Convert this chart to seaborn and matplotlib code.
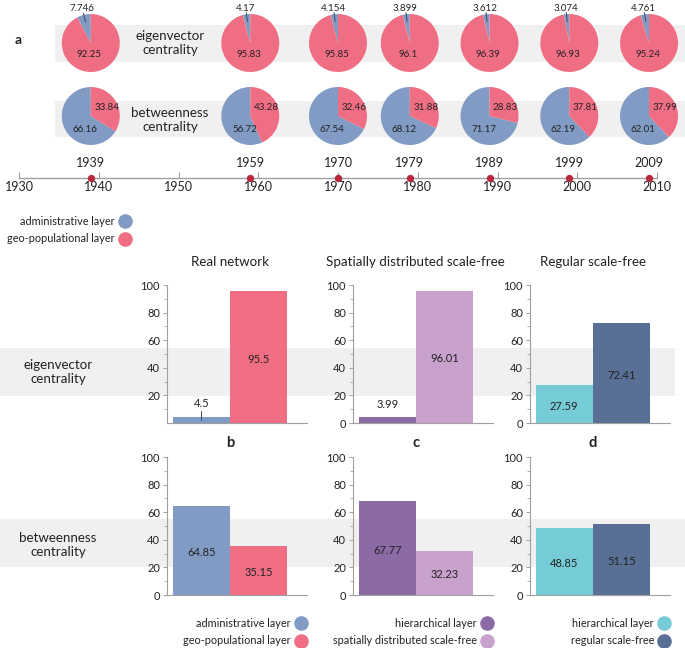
import numpy as np
import matplotlib
matplotlib.use("Agg")
import matplotlib.pyplot as plt
import matplotlib.transforms as mtransforms
from matplotlib.patches import Rectangle
from matplotlib.lines import Line2D
import seaborn as sns

# panel a: share of each layer per census year (pies)
years = [1939, 1959, 1970, 1979, 1989, 1999, 2009]
eig_admin = [7.746, 4.17, 4.154, 3.899, 3.612, 3.074, 4.761]
eig_geo = [92.25, 95.83, 95.85, 96.1, 96.39, 96.93, 95.24]
btw_admin = [66.16, 56.72, 67.54, 68.12, 71.17, 62.19, 62.01]
btw_geo = [33.84, 43.28, 32.46, 31.88, 28.83, 37.81, 37.99]
axis_years = [1930, 1940, 1950, 1960, 1970, 1980, 1990, 2000, 2010]

# panels b-d: bars
panel_titles = ["Real network", "Spatially distributed scale-free", "Regular scale-free"]
panel_letters = ["b", "c", "d"]
b_labels = ["administrative layer", "geo-populational layer"]
c_labels = ["hierarchical layer", "spatially distributed scale-free"]
d_labels = ["hierarchical layer", "regular scale-free"]
eig_b = [4.5, 95.5]
eig_c = [3.99, 96.01]
eig_d = [27.59, 72.41]
btw_b = [64.85, 35.15]
btw_c = [67.77, 32.23]
btw_d = [48.85, 51.15]

# colours
BLUE = "#819bc4"
PINK = "#f06e84"
PURPLE = "#8b6aa5"
LILAC = "#c8a1cc"
CYAN = "#76ccd6"
NAVY = "#5a6f96"
RED = "#b8283c"
BAND = "#f0f0f0"
GREY = "#a0a0a0"
TXT = "#222222"

sns.set_theme(style="white")
plt.rcParams["font.family"] = ["Lato", "DejaVu Sans"]
plt.rcParams["text.color"] = TXT

W, H = 685, 648
fig = plt.figure(figsize=(W / 100, H / 100), dpi=100)


def box(x0, y0, x1, y1):
    # pixel box, origin top-left -> figure rect
    return [x0 / W, 1 - y1 / H, (x1 - x0) / W, (y1 - y0) / H]


def fpos(x, y):
    return (x / W, 1 - y / H)


# background: grey bands and row labels
bg = fig.add_axes([0, 0, 1, 1], zorder=0)
bg.set_xlim(0, W)
bg.set_ylim(H, 0)
bg.axis("off")
for x0, x1, y0, y1 in [(55, 685, 25, 62), (55, 685, 101, 137),
                       (0, 675, 348, 396), (0, 685, 519, 567)]:
    bg.add_patch(Rectangle((x0, y0), x1 - x0, y1 - y0, color=BAND, lw=0))

bg.text(18, 40, "a", fontsize=10, fontweight="bold", ha="center", va="center")
row_kw = dict(fontsize=9.6, ha="center", va="center", linespacing=1.15)
bg.text(170, 43, "eigenvector\ncentrality", **row_kw)
bg.text(170, 120, "betweenness\ncentrality", **row_kw)
bg.text(58, 372, "eigenvector\ncentrality", **row_kw)
bg.text(58, 545, "betweenness\ncentrality", **row_kw)

# ---------------- panel a ----------------
s = 638 / 80  # px per year
ax_a = fig.add_axes(box(0, 0, 685, 178), zorder=1)
ax_a.set_facecolor("none")
R = 29 / s
y_eig = (178 - 43) / s
y_btw = (178 - 116) / s

for i, yr in enumerate(years):
    ax_a.pie([eig_admin[i], eig_geo[i]], colors=[BLUE, PINK], startangle=90,
             center=(yr, y_eig), radius=R, frame=True, wedgeprops=dict(lw=0))
    ax_a.pie([btw_admin[i], btw_geo[i]], colors=[BLUE, PINK], startangle=90,
             center=(yr, y_btw), radius=R, frame=True, wedgeprops=dict(lw=0))

    ax_a.text(yr - 0.05 * R, y_eig - 0.38 * R, f"{eig_geo[i]:g}", fontsize=7,
              ha="center", va="center")
    ang = np.deg2rad(90 + 1.8 * eig_admin[i])
    ax_a.plot([yr + 0.75 * R * np.cos(ang), yr + 1.06 * R * np.cos(ang)],
              [y_eig + 0.75 * R * np.sin(ang), y_eig + 1.06 * R * np.sin(ang)],
              color="#3a4a66", lw=0.7)
    ax_a.text(yr + 1.22 * R * np.cos(ang), y_eig + 1.2 * R,
              f"{eig_admin[i]:g}", fontsize=7, ha="center", va="center")

    ax_a.text(yr + 0.55 * R, y_btw + 0.28 * R, f"{btw_geo[i]:g}", fontsize=7,
              ha="center", va="center")
    ax_a.text(yr - 0.2 * R, y_btw - 0.45 * R, f"{btw_admin[i]:g}", fontsize=7,
              ha="center", va="center")

    ax_a.text(yr, 15 / s, str(yr), fontsize=9, ha="center", va="center")

ax_a.scatter(years, np.zeros(len(years)), s=28, color=RED, zorder=4, clip_on=False, lw=0)

ax_a.set_aspect("auto")
ax_a.set_xlim(1930 - 19 / s, 1930 + 666 / s)
ax_a.set_ylim(0, 178 / s)
for sp in ["top", "left", "right"]:
    ax_a.spines[sp].set_visible(False)
ax_a.spines["bottom"].set_color(GREY)
ax_a.spines["bottom"].set_linewidth(1)
ax_a.spines["bottom"].set_bounds(1930, 2010)
ax_a.set_xticks(axis_years)
ax_a.set_xticklabels([str(y) for y in axis_years])
ax_a.set_yticks([])
ax_a.tick_params(axis="x", direction="in", length=4, width=0.8, color=GREY,
                 labelsize=9, labelcolor=TXT, pad=2.5, bottom=True)

legend_kw = dict(frameon=False, markerfirst=False, fontsize=7.8, handlelength=1.0,
                 handletextpad=0.4, labelspacing=0.62, borderpad=0, borderaxespad=0)


def dots(colors):
    return [Line2D([], [], ls="", marker="o", markersize=10.5, color=c, mec="none") for c in colors]


fig.legend(dots([BLUE, PINK]), ["administrative layer", "geo-populational layer"],
           loc="center right", bbox_to_anchor=fpos(130, 230), **legend_kw)

# ---------------- panels b-d ----------------
rows = [(285, 423, [eig_b, eig_c, eig_d]), (457, 595, [btw_b, btw_c, btw_d])]
col_x = [167, 353, 530]
col_labels = [b_labels, c_labels, d_labels]
col_colors = [[BLUE, PINK], [PURPLE, LILAC], [CYAN, NAVY]]

for r, (y0, y1, vals_row) in enumerate(rows):
    for c in range(3):
        ax = fig.add_axes(box(col_x[c], y0, col_x[c] + 140, y1), zorder=1)
        ax.set_facecolor("none")
        vals = vals_row[c]
        sns.barplot(x=col_labels[c], y=vals, hue=col_labels[c], palette=col_colors[c],
                    width=1.0, saturation=1, legend=False, linewidth=0, ax=ax)
        ax.set_xlim(-0.6, 1.85)
        ax.set_ylim(0, 100)
        ax.set_xticks([])
        ax.set_xlabel("")
        ax.set_ylabel("")
        if r == 0 and c == 0:
            ax.set_yticks([20, 40, 60, 80, 100])
        else:
            ax.set_yticks([0, 20, 40, 60, 80, 100])
        ax.set_yticks(np.arange(10, 100, 20), minor=True)
        sns.despine(ax=ax)
        for sp in ["left", "bottom"]:
            ax.spines[sp].set_color(GREY)
            ax.spines[sp].set_linewidth(0.8)
        ax.tick_params(axis="y", which="major", left=True, length=3, width=0.7, color=GREY,
                       labelsize=8, labelcolor=TXT, pad=2)
        ax.tick_params(axis="y", which="minor", left=True, length=2, width=0.6, color=GREY)

        for i, v in enumerate(vals):
            if v < 10:
                ax.text(i, v + 9.5, f"{v:g}", fontsize=8, ha="center", va="center")
                if c == 0:
                    ax.plot([i, i], [v - 2, v + 4], color="#3a4a66", lw=0.7)
            else:
                ax.text(i, v / 2 - 1.5, f"{v:g}", fontsize=8, ha="center", va="center")

        trans = mtransforms.blended_transform_factory(ax.transData, ax.transAxes)
        if r == 0:
            ax.text(0.5, 1 + 23 / 138, panel_titles[c], transform=trans, fontsize=9.6,
                    ha="center", va="center")
            ax.text(0.5, -20 / 138, panel_letters[c], transform=trans, fontsize=10.5,
                    fontweight="bold", ha="center", va="center")
        else:
            leg_x = col_x[c] + 140 * (1.8 - (-0.6)) / 2.45 + 2
            fig.legend(dots(col_colors[c]), col_labels[c], loc="center right",
                       bbox_to_anchor=fpos(leg_x, 632), **legend_kw)

fig.savefig("out.png", dpi=100)
